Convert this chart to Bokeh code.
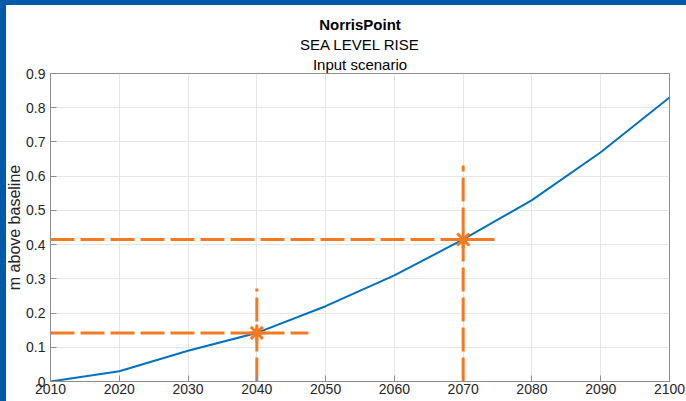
from bokeh.plotting import figure
from bokeh.models import Range1d, FixedTicker, Title
from bokeh.embed import file_html
from bokeh.resources import INLINE

# ---- data ----
years = [2010, 2020, 2030, 2040, 2050, 2060, 2070, 2080, 2090, 2100]
slr = [0.0, 0.03, 0.09, 0.142, 0.22, 0.31, 0.415, 0.53, 0.67, 0.83]

mark_years = [2040, 2070]
mark_vals = [0.142, 0.415]
guide_start_year = [2010, 2010]
guide_h_end = [2047.5, 2075.1]
guide_v_bottom = [0.0, 0.0]
guide_v_top = [0.272, 0.631]

x_ticks = [2010, 2020, 2030, 2040, 2050, 2060, 2070, 2080, 2090, 2100]
y_ticks = [0, 0.1, 0.2, 0.3, 0.4, 0.5, 0.6, 0.7, 0.8, 0.9]
y_tick_labels = ["0", "0.1", "0.2", "0.3", "0.4", "0.5", "0.6", "0.7", "0.8", "0.9"]

title_lines = ["NorrisPoint", "SEA LEVEL RISE", "Input scenario"]
y_label = "m above baseline"

BLUE = "#0072BD"
ORANGE = "#F47A22"
TXT = "#262626"
FRAME_BLUE = "#005AAA"
FONT = "Liberation Sans"

W, H = 686, 401
p = figure(width=W, height=H, output_backend="svg", toolbar_location=None,
           title=None, x_range=Range1d(2010, 2100), y_range=Range1d(0, 0.9),
           min_border_left=50, min_border_right=17, min_border_top=73, min_border_bottom=20)

# window frame strips of the screenshot (left and top edges), painted behind a transparent border
p.border_fill_color = None
p.styles = {
    "background-image": (f"linear-gradient(to right, {FRAME_BLUE} 6px, transparent 6px), "
                         f"linear-gradient(to bottom, {FRAME_BLUE} 5px, #ffffff 5px)"),
    "background-repeat": "no-repeat",
    "background-origin": "border-box",
}

# titles (innermost added first)
for txt in reversed(title_lines):
    t = Title(text=txt, align="center", text_font=FONT, text_font_size="15px",
              text_color="#000000", standoff=0.5,
              text_font_style="bold" if txt == title_lines[0] else "normal")
    p.add_layout(t, "above")

p.background_fill_color = "white"
p.outline_line_color = "#8c8c8c"
p.outline_line_width = 1

p.xaxis.ticker = FixedTicker(ticks=x_ticks)
p.yaxis.ticker = FixedTicker(ticks=y_ticks)
p.yaxis.major_label_overrides = {t: l for t, l in zip(y_ticks, y_tick_labels)}
for ax in (p.xaxis[0], p.yaxis[0]):
    ax.axis_line_color = "#8c8c8c"
    ax.major_tick_line_color = "#8c8c8c"
    ax.major_tick_in = 6
    ax.major_tick_out = 0
    ax.minor_tick_line_color = None
    ax.major_label_text_font = FONT
    ax.major_label_text_font_size = "14px"
    ax.major_label_text_color = TXT
p.xaxis.major_label_standoff = 2
p.yaxis.major_label_standoff = 5
p.yaxis.axis_label = y_label
p.yaxis.axis_label_text_font = FONT
p.yaxis.axis_label_text_font_size = "16px"
p.yaxis.axis_label_text_font_style = "normal"
p.yaxis.axis_label_text_color = TXT
p.yaxis.axis_label_standoff = 0

p.xgrid.ticker = FixedTicker(ticks=x_ticks)
p.ygrid.ticker = FixedTicker(ticks=y_ticks)
p.grid.grid_line_color = "#e6e6e6"
p.grid.grid_line_width = 1

# main series
p.line(years, slr, line_color=BLUE, line_width=2)

# dashed guides
p.segment(x0=guide_start_year, y0=mark_vals, x1=guide_h_end, y1=mark_vals,
          line_color=ORANGE, line_width=3, line_dash="24 6")
p.segment(x0=mark_years, y0=guide_v_bottom, x1=mark_years, y1=guide_v_top,
          line_color=ORANGE, line_width=3, line_dash="24 6")

# markers
p.scatter(mark_years, mark_vals, marker="asterisk", size=17,
          line_color=ORANGE, line_width=3)

open("out.html", "w").write(file_html(p, INLINE))
